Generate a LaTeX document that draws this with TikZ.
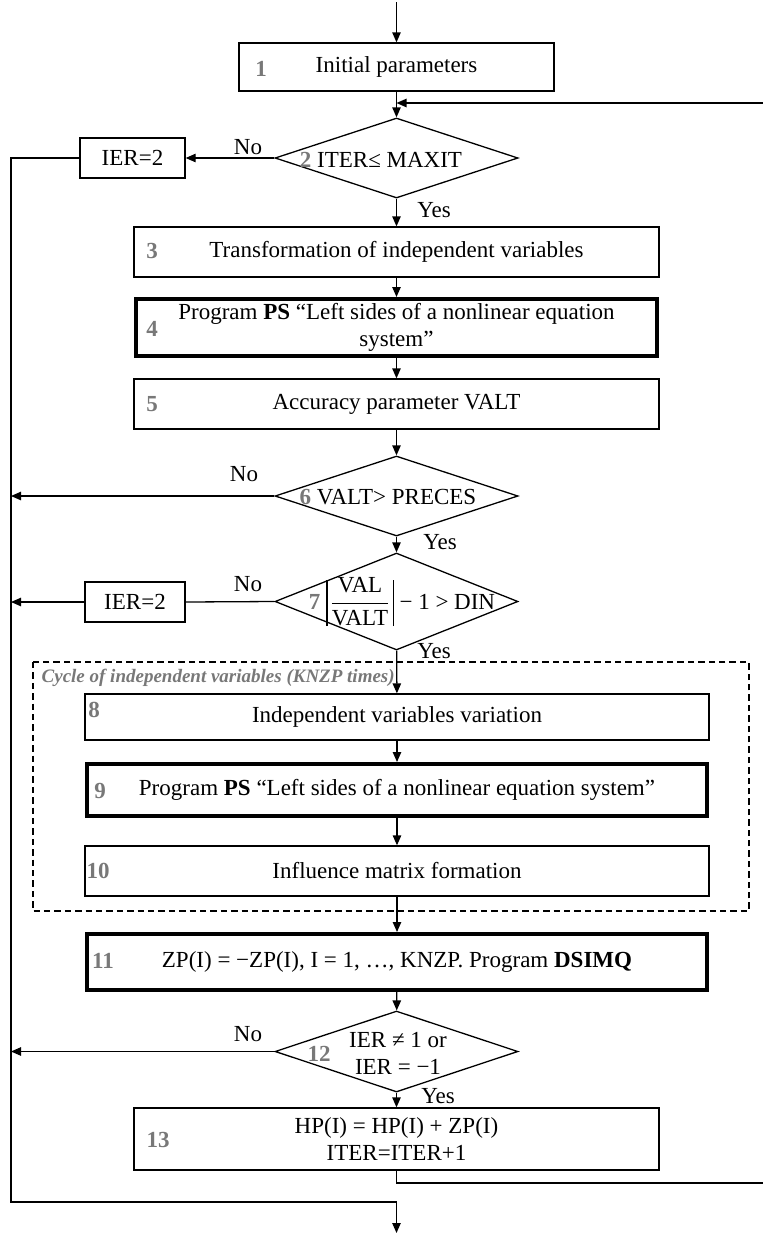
\documentclass[tikz,border=0pt]{standalone}
\usepackage{fontspec}
\setmainfont{Liberation Serif}
\usetikzlibrary{shapes.geometric,arrows.meta,calc}
\definecolor{numgray}{RGB}{120,120,120}
\begin{document}
\begin{tikzpicture}[x=0.5pt,y=-0.5pt,
  font=\fontsize{11.5}{13.5}\selectfont,
  line width=0.65pt,
  proc/.style={draw,rectangle,inner sep=0pt,align=center,minimum width=262.5pt,minimum height=25pt},
  wide/.style={proc,minimum width=312pt},
  heavy/.style={line width=2pt},
  dec/.style={draw,diamond,inner sep=0pt,minimum width=121.5pt,minimum height=40pt},
  errbox/.style={draw,rectangle,inner sep=0pt,minimum width=52.5pt,minimum height=20pt},
  num/.style={text=numgray,font=\fontsize{11.5}{13.5}\selectfont\bfseries,inner sep=0pt},
  lbl/.style={inner sep=0pt,align=center},
  arr/.style={-{Triangle[length=5pt,width=4.2pt]}},
  cycleframe/.style={draw,line width=1pt,dash pattern=on 3.2pt off 2pt},
  cyclecap/.style={text=numgray,font=\fontsize{9.5}{11}\selectfont\bfseries\itshape,inner sep=0pt,anchor=west}
]
\newcommand{\nm}[1]{\textcolor{numgray}{\bfseries #1}}
\newcommand{\absbar}{\vrule width 0.6pt height 14.5pt depth 8.5pt}
\useasboundingbox (0,0) rectangle (763,1233);

% dashed frame of the inner cycle
\draw[cycleframe] (33,662) rectangle (749,911);
\node[cyclecap] (cap) at (41,678) {Cycle of independent variables (KNZP times)};

% blocks
\node[proc,minimum width=157.5pt,minimum height=24pt] (b1) at (396.5,67) {Initial parameters};
\node[dec] (d2) at (396.5,158) {};
\node[lbl] (d2t) at (381,160) {\nm{2} ITER≤ MAXIT};
\node[errbox] (e1) at (132.5,158) {IER=2};
\node[proc] (b3) at (396.5,252) {Transformation of independent variables};
\node[proc,heavy,minimum width=260.5pt,minimum height=28.5pt] (b4) at (396.5,327.5)
  {Program \textbf{PS} “Left sides of a nonlinear equation\\system”};
\node[proc] (b5) at (396.5,404) {Accuracy parameter VALT};
\node[dec] (d6) at (396.5,496) {};
\node[lbl] (d6t) at (388,497) {\nm{6} VALT> PRECES};
\node[dec,minimum height=48.5pt] (d7) at (396.5,601.5) {};
\node[lbl] (d7t) at (402,602)
  {\nm{7}\kern3pt\absbar\kern1pt$\displaystyle\frac{\mbox{VAL}}{\mbox{VALT}}$\kern1pt\absbar\ − 1 > DIN};
\node[errbox,minimum width=50pt] (e2) at (135,602) {IER=2};
\node[wide,minimum height=23pt] (b8) at (397,717) {Independent variables variation};
\node[wide,heavy,minimum width=310pt,minimum height=26pt] (b9) at (397,790)
  {Program \textbf{PS} “Left sides of a nonlinear equation system”};
\node[wide] (b10) at (397,871) {Influence matrix formation};
\node[wide,heavy,minimum width=310pt,minimum height=28pt] (b11) at (397,962)
  {ZP(I) = −ZP(I), I = 1, …, KNZP. Program \textbf{DSIMQ}};
\node[dec,minimum height=40.5pt] (d12) at (396.5,1051.5) {};
\node[lbl] (d12t) at (398,1053) {IER ≠ 1 or\\IER = −1};
\node[num] (n12) at (319,1054) {12};
\node[proc,minimum height=31pt] (b13) at (396.5,1139) {HP(I) = HP(I) + ZP(I)\\ITER=ITER+1};

% block numbers
\node[num] (n1) at (261,69) {1};
\node[num] (n3) at (152,251) {3};
\node[num] (n4) at (152,329) {4};
\node[num] (n5) at (152,404) {5};
\node[num] (n8) at (94,710) {8};
\node[num] (n9) at (100,791) {9};
\node[num] (n10) at (98,871) {10};
\node[num] (n11) at (103,961) {11};
\node[num] (n13) at (158,1140) {13};

% branch labels
\node[lbl] (no2) at (248,147) {No};
\node[lbl] (yes2) at (434,210) {Yes};
\node[lbl] (no6) at (244,474) {No};
\node[lbl] (yes6) at (440,542) {Yes};
\node[lbl] (no7) at (248,584) {No};
\node[lbl] (yes7) at (434,651) {Yes};
\node[lbl] (no12) at (248,1034) {No};
\node[lbl] (yes12) at (438,1096) {Yes};

% route points
\coordinate (start) at (396.5,2);
\coordinate (stop) at (396.5,1233);
\coordinate (merge) at (396.5,103);
\coordinate (rtop) at (775,103);
\coordinate (rbot) at (775,1183);
\coordinate (ltop) at (11,158);
\coordinate (lbot) at (11,1202);
\coordinate (join) at (396.5,1202);

% main flow
\draw[arr] (start) -- (b1);
\draw[arr] (b1) -- (d2);
\draw[arr] (d2) -- (b3);
\draw[arr] (b3) -- (b4);
\draw[arr] (b4) -- (b5);
\draw[arr] (b5) -- (d6);
\draw[arr] (d6) -- (d7);
\draw[arr] (d7) -- (b8);
\draw[arr] (b8) -- (b9);
\draw[arr] (b9) -- (b10);
\draw[arr] (b10) -- (b11);
\draw[arr] (b11) -- (d12);
\draw[arr] (d12) -- (b13);

% iteration loop back to the test of ITER
\draw[arr] (b13.south) |- (rbot) -- (rtop) -- (merge);

% exits on the left
\draw[arr] (d2.west) -- (e1.east);
\draw (e1.west) -- (ltop) -- (lbot) -- (join);
\draw[arr] (join) -- (stop);
\draw[arr] (d6.west) -- (d6.west -| ltop);
\draw (d7.west) -- (e2.east);
\draw[arr] (e2.west) -- (e2.west -| ltop);
\draw[arr] (d12.west) -- (d12.west -| ltop);
\end{tikzpicture}
\end{document}
